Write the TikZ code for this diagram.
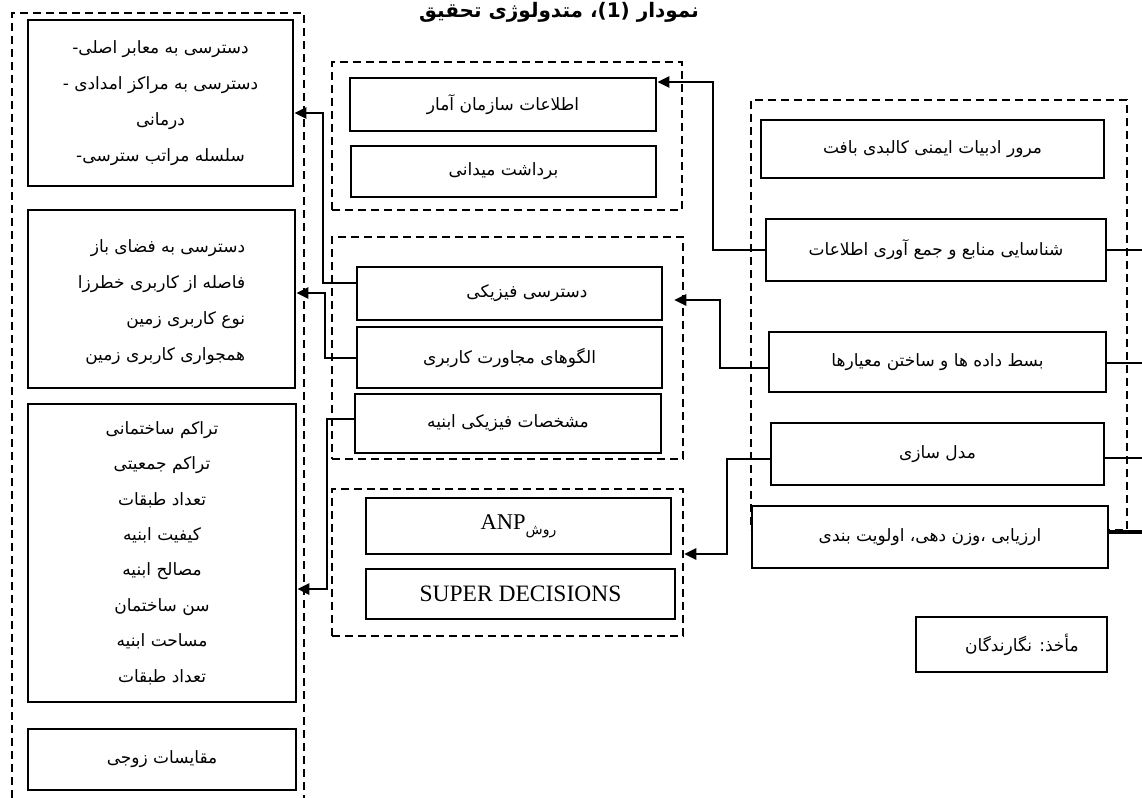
\documentclass[tikz,border=0pt]{standalone}
\usepackage{fontspec}
\setmainfont{Liberation Serif}
\newfontfamily\fa[Script=Arabic]{DejaVu Sans}
\TeXXeTstate=1
\usetikzlibrary{arrows.meta}
\newcommand{\rl}[1]{{\fa\beginR #1\endR}}
\begin{document}
\begin{tikzpicture}[x=1pt,y=-1pt,
  box/.style={draw, line width=2.6pt, fill=white, inner sep=0pt, font=\fontsize{17}{20}\selectfont},
  grp/.style={draw, line width=2.5pt, dash pattern=on 8pt off 5pt, inner sep=0pt},
  conn/.style={line width=2.6pt},
  arr/.style={conn, -{Triangle[length=12pt,width=11pt]}}]
\useasboundingbox (0,0) rectangle (1142,797);
% title
\node[font=\fontsize{20}{24}\selectfont\bfseries, anchor=base, inner sep=0pt] (T) at (559,18) {\rl{نمودار \beginL(1)\endL، متدولوژی تحقیق}};
% dashed groups
\node[grp, minimum width=292, minimum height=810] (LG) at (158,418) {};
\node[grp, minimum width=350, minimum height=148] (MG1) at (507,136) {};
\node[grp, minimum width=351, minimum height=222] (MG2) at (507.5,348) {};
\node[grp, minimum width=351, minimum height=147] (MG3) at (507.5,562.5) {};
\node[grp, minimum width=376, minimum height=430] (RG) at (939,315) {};
% left column
\node[box, minimum width=265, minimum height=166, align=center, font=\fontsize{17}{36}\selectfont] (L1) at (160.5,103)
  {\rl{دسترسی به معابر اصلی-}\\\rl{دسترسی به مراکز امدادی -}\\\rl{درمانی}\\\rl{سلسله مراتب سترسی-}};
\node[box, minimum width=267, minimum height=178] (L2) at (161.5,299)
  {{\fontsize{17}{36}\selectfont\begin{tabular}{@{}r@{}}\rl{دسترسی به فضای باز}\\\rl{فاصله از کاربری خطرزا}\\\rl{نوع کاربری زمین}\\\rl{همجواری کاربری زمین}\end{tabular}}\hspace{49pt}};
\node[box, minimum width=268, minimum height=298, align=center, font=\fontsize{17}{35.4}\selectfont] (L3) at (162,553)
  {\rl{تراکم ساختمانی}\\\rl{تراکم جمعیتی}\\\rl{تعداد طبقات}\\\rl{کیفیت ابنیه}\\\rl{مصالح ابنیه}\\\rl{سن ساختمان}\\\rl{مساحت ابنیه}\\\rl{تعداد طبقات}};
\node[box, minimum width=268, minimum height=61] (L4) at (162,759.5) {\rl{مقایسات زوجی}};
% middle column
\node[box, minimum width=306, minimum height=53] (M1) at (503,104.5) {\rl{اطلاعات سازمان آمار}\hspace{52pt}};
\node[box, minimum width=305, minimum height=51] (M2) at (503.5,171.5) {\rl{برداشت میدانی}\hspace{49pt}};
\node[box, minimum width=305, minimum height=53] (M3) at (509.5,293.5) {\hspace{35pt}\rl{دسترسی فیزیکی}};
\node[box, minimum width=305, minimum height=61] (M4) at (509.5,357.5) {\rl{الگوهای مجاورت کاربری}\hspace{19pt}};
\node[box, minimum width=306, minimum height=59] (M5) at (508,423.5) {\rl{مشخصات فیزیکی ابنیه}};
\node[box, minimum width=305, minimum height=56] (M6) at (518.5,526) {{\fontsize{22.5}{24}\selectfont ANP}\raisebox{-5pt}{\fontsize{14}{16}\selectfont\rl{روش}}\hspace{21pt}};
\node[box, minimum width=309, minimum height=50] (M7) at (520.5,594) {{\fontsize{23.5}{26}\selectfont SUPER DECISIONS}\hspace{45pt}};
% right column
\node[box, minimum width=343, minimum height=58] (R1) at (932.5,149) {\rl{مرور ادبیات ایمنی کالبدی بافت}\hspace{31pt}};
\node[box, minimum width=340, minimum height=62] (R2) at (936,250) {\rl{شناسایی منابع و جمع آوری اطلاعات}};
\node[box, minimum width=337, minimum height=60] (R3) at (937.5,362) {\rl{بسط داده ها و ساختن معیارها}\hspace{25pt}};
\node[box, minimum width=333, minimum height=62] (R4) at (937.5,454) {\rl{مدل سازی}\hspace{49pt}};
\node[box, minimum width=356, minimum height=62] (R5) at (930,537) {\rl{ارزیابی ،وزن دهی، اولویت بندی}\hspace{20pt}};
\node[box, line width=1.4pt, minimum width=191, minimum height=55] (S) at (1011.5,644.5) {\hspace{21pt}\rl{مأخذ: نگارندگان}};
% connectors
\draw[arr] (R2.west) -- (713,250) -- (713,82) -- (M1.east |- 0,82);
\draw[arr] (R3.west |- 0,368) -- (720,368) -- (720,300) -- ([xshift=-10pt]MG2.east |- 0,300);
\draw[arr] (R4.west |- 0,459) -- (727,459) -- (727,554) -- (MG3.east |- 0,554);
\draw[arr] (M3.west |- 0,283) -- (323,283) -- (323,113) -- (L1.east |- 0,113);
\draw[arr] (M4.west |- 0,358) -- (325,358) -- (325,293) -- (L2.east |- 0,293);
\draw[arr] (M5.west |- 0,419) -- (327,419) -- (327,589) -- (L3.east |- 0,589);
\coordinate (E2) at (1142,250);
\coordinate (E3) at (1142,363);
\coordinate (E4) at (1142,458);
\coordinate (E5) at (1142,532);
\draw[conn] (R2.east) -- (E2);
\draw[conn] (R3.east |- E3) -- (E3);
\draw[conn] (R4.east |- E4) -- (E4);
\draw[conn, line width=4pt] (R5.east |- E5) -- (E5);
\end{tikzpicture}
\end{document}
